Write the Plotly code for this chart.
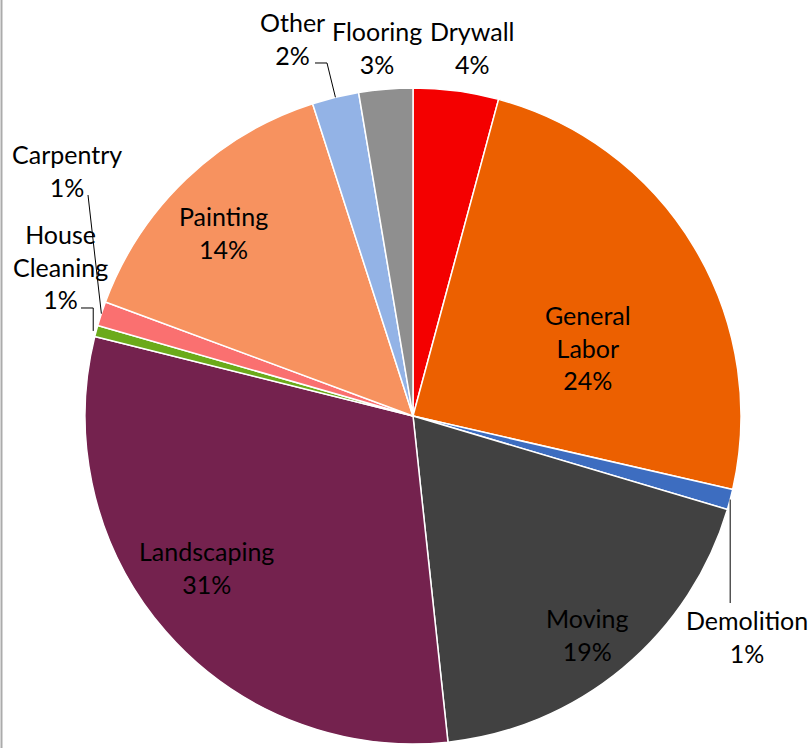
import math
import plotly.graph_objects as go

# ---- data ----
categories = ["Drywall", "General Labor", "Demolition", "Moving", "Landscaping",
              "House Cleaning", "Carpentry", "Painting", "Other", "Flooring"]
shares = [4.2, 24.4, 1.0, 18.7, 30.6, 0.55, 1.2, 14.4, 2.3, 2.65]
display_names = ["Drywall", "General<br>Labor", "Demolition", "Moving", "Landscaping",
                 "House<br>Cleaning", "Carpentry", "Painting", "Other", "Flooring"]
colors = ["#F40000", "#EC6000", "#3D6DC0", "#414141", "#74224E",
          "#6BAA1A", "#FA7070", "#F7925F", "#93B3E6", "#8F8F8F"]

# ---- layout geometry (pixels) ----
W, H = 811, 748
CX, CY, R = 413, 416, 328

def px(x):
    return x / W

def py(y):
    return 1 - y / H

total = sum(shares)
pcts = [round(v / total * 100) for v in shares]

def rim_point(cat):
    i = categories.index(cat)
    start = sum(shares[:i]) / total
    mid = start + shares[i] / total / 2
    th = 2 * math.pi * mid
    return CX + R * math.sin(th), CY - R * math.cos(th)

fig = go.Figure(go.Pie(
    labels=categories, values=shares, sort=False, direction="clockwise", rotation=0,
    marker=dict(colors=colors, line=dict(color="white", width=1.5)),
    textinfo="none", hoverinfo="label+percent", showlegend=False,
    domain=dict(x=[px(CX - R), px(CX + R)], y=[py(CY + R), py(CY - R)]),
))

# label block centres (pixels)
label_pos = {
    "Drywall": (472, 47), "General Labor": (588, 347), "Demolition": (747, 636),
    "Moving": (587, 634), "Landscaping": (207, 567), "House Cleaning": (60, 266),
    "Carpentry": (67, 170), "Painting": (223, 232), "Other": (292, 39),
    "Flooring": (377, 47),
}

annotations = []
for cat, name, p in zip(categories, display_names, pcts):
    x, y = label_pos[cat]
    annotations.append(dict(
        x=px(x), y=py(y), xref="paper", yref="paper", xanchor="center", yanchor="middle",
        text=f"{name}<br>{p}%", showarrow=False, align="center",
        font=dict(family="Lato", size=25, color="black"),
    ))

shapes = []
def path(points):
    d = "M " + " L ".join(f"{px(a):.5f},{py(b):.5f}" for a, b in points)
    shapes.append(dict(type="path", path=d, xref="paper", yref="paper",
                       line=dict(color="black", width=1)))

ox, oy = rim_point("Other")
path([(315, 63), (327, 63), (ox, oy)])
dx_, dy_ = rim_point("Demolition")
path([(dx_, 603), (dx_, dy_)])
cx_, cy_ = rim_point("Carpentry")
path([(88, 195), (cx_, cy_)])
hx, hy = rim_point("House Cleaning")
path([(81, 308), (hx - 3, 308), (hx - 3, hy)])

# left frame edge
shapes.append(dict(type="line", xref="paper", yref="paper", x0=px(1.5), x1=px(1.5), y0=0, y1=1,
                   line=dict(color="#ABABAB", width=2)))

fig.update_layout(
    width=W, height=H, margin=dict(l=0, r=0, t=0, b=0),
    paper_bgcolor="white", plot_bgcolor="white",
    font=dict(family="Lato", size=25, color="black"),
    annotations=annotations, shapes=shapes,
)

fig.write_html("out.html")
